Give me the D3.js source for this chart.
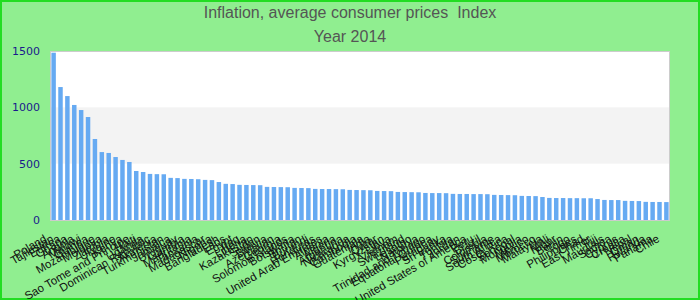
<!DOCTYPE html>
<html>
<head>
<meta charset="utf-8">
<script src="https://cdn.jsdelivr.net/npm/d3@7"></script>
<style>
  body { margin: 0; }
  svg { display: block; }
</style>
</head>
<body>
<svg id="chart"></svg>
<script>
// data
const countries = [
  'Poland', 'Tajikistan', 'Eritrea', 'Ghana', 'Angola', 'Malawi', 'Guinea', 'Mozambique', 'Moldova', 'Zambia',
  'Ukraine', 'Kenya', 'Sao Tome and Principe', 'Haiti', 'Uganda', 'Dominican Republic', 'Armenia', 'Turkmenistan', 'Jamaica', 'Uruguay',
  'Gambia', 'Mauritania', 'Tanzania', 'Madagascar', 'Nigeria', 'Bangladesh', 'Laos', 'Egypt', 'Iraq', 'Liberia',
  'Kazakhstan', 'Sudan', 'Bolivia', 'Azerbaijan', 'Georgia', 'Solomon Islands', 'Botswana', 'Bhutan', 'Burundi', 'Honduras',
  'United Arab Emirates', 'Albania', 'Algeria', 'Argentina', 'Nicaragua', 'Cambodia', 'Guatemala', 'India', 'Qatar', 'Kyrgyzstan',
  'Libya', 'Vietnam', 'Swaziland', 'Lesotho', 'Namibia', 'Trinidad and Tobago', 'Equatorial Guinea', 'Paraguay', 'Sri Lanka', 'Tunisia',
  'Jordan', 'United States of America', 'Peru', 'Brazil', 'Colombia', 'Suriname', 'South Africa', 'Costa Rica', 'Senegal', 'Mongolia',
  'Mexico', 'Morocco', 'Malaysia', 'Mali', 'Niger', 'Benin', 'Togo', 'Philippines', 'Chad', 'East Timor',
  'Fiji', 'Mauritius', 'Samoa', 'Cyprus', 'Croatia', 'Nepal', 'Oman', 'Rwanda', 'Panama', 'Chile'
]

const values = [
  1485, 1180, 1100, 1021, 976, 914, 719, 603, 595, 559,
  533, 515, 435, 426, 409, 407, 406, 374, 372, 365,
  364, 362, 356, 354, 337, 321, 319, 312, 311, 310,
  309, 294, 293, 292, 291, 285, 284, 283, 276, 275,
  275, 274, 273, 267, 266, 265, 264, 258, 257, 256,
  249, 248, 247, 246, 240, 239, 239, 238, 232, 231,
  231, 230, 230, 229, 223, 222, 221, 220, 214, 213,
  212, 204, 196, 195, 195, 194, 194, 193, 193, 186,
  178, 177, 177, 170, 169, 168, 161, 160, 160, 159
]

const yTicks = [0, 500, 1000, 1500]
const title = 'Inflation, average consumer prices  Index'
const subtitle = 'Year 2014'

const width = 700
const height = 300
const plot = { left: 50, right: 670, top: 51, bottom: 220 }

const svg = d3.select('#chart')
  .attr('width', width)
  .attr('height', height)

// background + border
svg.append('rect')
  .attr('x', 1).attr('y', 1)
  .attr('width', width - 2).attr('height', height - 2)
  .attr('fill', '#90ee90')
  .attr('stroke', '#22dd22')
  .attr('stroke-width', 2)

const x = d3.scaleBand()
  .domain(countries)
  .range([plot.left, plot.right])
  .paddingInner(0.35)
  .paddingOuter(0.2)

const y = d3.scaleLinear()
  .domain([0, 1500])
  .range([plot.bottom, plot.top])

// plot area
svg.append('rect')
  .attr('x', plot.left).attr('y', plot.top)
  .attr('width', plot.right - plot.left)
  .attr('height', plot.bottom - plot.top)
  .attr('fill', '#ffffff')

// alternate band between 500 and 1000
svg.append('rect')
  .attr('x', plot.left).attr('y', y(1000))
  .attr('width', plot.right - plot.left)
  .attr('height', y(500) - y(1000))
  .attr('fill', '#f3f3f3')

svg.append('rect')
  .attr('x', plot.left + 0.5).attr('y', plot.top + 0.5)
  .attr('width', plot.right - plot.left - 1)
  .attr('height', plot.bottom - plot.top)
  .attr('fill', 'none')
  .attr('stroke', '#cccccc')
  .attr('stroke-width', 1)

// bars
svg.append('g')
  .selectAll('rect')
  .data(countries)
  .enter()
  .append('rect')
  .attr('x', d => x(d))
  .attr('width', x.bandwidth())
  .attr('y', (d, i) => y(values[i]))
  .attr('height', (d, i) => y(0) - y(values[i]))
  .attr('fill', '#66aaf2')

// y axis labels
svg.append('g')
  .selectAll('text')
  .data(yTicks)
  .enter()
  .append('text')
  .attr('x', 40)
  .attr('y', d => y(d) + 4)
  .attr('text-anchor', 'end')
  .style('font-family', 'DejaVu Sans')
  .style('font-size', '11px')
  .attr('fill', '#1a1a8c')
  .text(d => d)

// x axis labels, rotated so they end at their bar
svg.append('g')
  .selectAll('text')
  .data(countries)
  .enter()
  .append('text')
  .attr('transform', d => `translate(${x(d) + x.bandwidth() / 2 - 6}, ${plot.bottom + 21}) rotate(-30)`)
  .attr('text-anchor', 'end')
  .style('font-family', 'Liberation Sans, Arial, sans-serif')
  .style('font-size', '11.5px')
  .attr('fill', '#111111')
  .text(d => d)

// titles
svg.append('text')
  .attr('x', width / 2)
  .attr('y', 18)
  .attr('text-anchor', 'middle')
  .style('white-space', 'pre')
  .style('font-family', 'Liberation Sans Narrow, Arial Narrow, sans-serif')
  .style('font-size', '16px')
  .attr('fill', '#555555')
  .text(title)

svg.append('text')
  .attr('x', width / 2)
  .attr('y', 42)
  .attr('text-anchor', 'middle')
  .style('font-family', 'Liberation Sans Narrow, Arial Narrow, sans-serif')
  .style('font-size', '16px')
  .attr('fill', '#555555')
  .text(subtitle)
</script>
</body>
</html>
